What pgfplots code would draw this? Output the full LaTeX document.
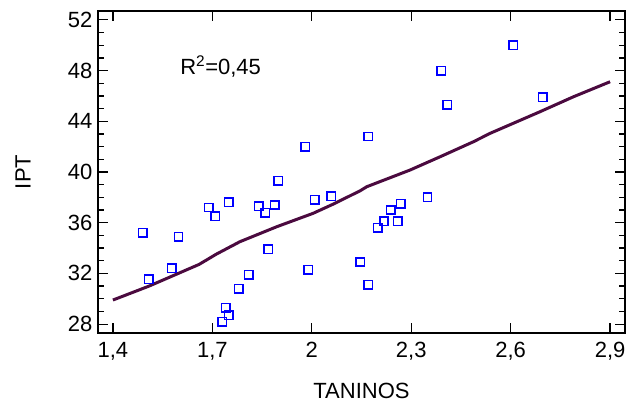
\documentclass[border=0pt]{standalone}
\usepackage{pgfplots}
\pgfplotsset{compat=1.18}
\usepackage{fontspec}
\setmainfont{Liberation Sans}
\definecolor{fitline}{RGB}{75,10,63}
\definecolor{markblue}{RGB}{0,0,255}
\begin{document}
\begin{tikzpicture}
\begin{axis}[
  scale only axis,
  width=527pt, height=322pt,
  xmin=1.355, xmax=2.945,
  ymin=27.3, ymax=52.7,
  xtick={1.4,1.7,2,2.3,2.6,2.9},
  xticklabels={{1,4},{1,7},{2},{2,3},{2,6},{2,9}},
  ytick={28,32,36,40,44,48,52},
  minor y tick num=3,
  tick align=inside,
  major tick length=10pt,
  minor tick length=6pt,
  every tick/.style={black, line width=1.2pt},
  axis line style={line width=1.6pt},
  font=\fontsize{22}{26}\selectfont,
  /pgf/number format/assume math mode=true,
  yticklabel style={xshift=-2pt},
  xticklabel style={yshift=-6pt},
  xlabel={TANINOS},
  ylabel={IPT},
  xlabel style={at={(axis description cs:0.5,-0.18)}, anchor=center},
  ylabel style={at={(axis description cs:-0.142,0.5)}, anchor=center},
  clip=false,
]
\addplot[only marks, mark=square, mark size=4.2pt, color=markblue, mark options={draw=markblue, solid, line width=1.5pt}] coordinates {
(1.490,35.2) (1.508,31.55) (1.577,32.4) (1.598,34.9) (1.689,37.2)
(1.709,36.5) (1.750,37.6) (1.730,28.2) (1.740,29.3) (1.750,28.7)
(1.780,30.8) (1.810,31.9) (1.840,37.3) (1.859,36.8) (1.869,33.9)
(1.888,37.4) (1.899,39.3) (1.980,42.0) (1.989,32.3) (2.009,37.8)
(2.059,38.1) (2.146,32.9) (2.170,31.1) (2.170,42.8) (2.199,35.6)
(2.218,36.1) (2.238,37.0) (2.259,36.1) (2.269,37.5) (2.349,38.0)
(2.390,48.0) (2.409,45.3) (2.608,50.0) (2.697,45.9)
};
\addplot[fitline, line width=3pt] coordinates {
(1.400,29.9) (1.509,31.0) (1.660,32.71) (1.712,33.52) (1.783,34.5)
(1.894,35.68) (2.004,36.74) (2.065,37.47) (2.146,38.52) (2.166,38.84)
(2.296,40.15) (2.387,41.2) (2.488,42.39) (2.538,43.05) (2.689,44.76)
(2.790,45.94) (2.900,47.12)
};
\node[font=\fontsize{22}{26}\selectfont] at (axis cs:1.725,48.3) {R\textsuperscript{2}=0,45};
\end{axis}
\pgfresetboundingbox
\path[use as bounding box] (current axis.south west) ++(-98pt,-74pt) rectangle ([shift={(3pt,11pt)}]current axis.north east);
\end{tikzpicture}
\end{document}
